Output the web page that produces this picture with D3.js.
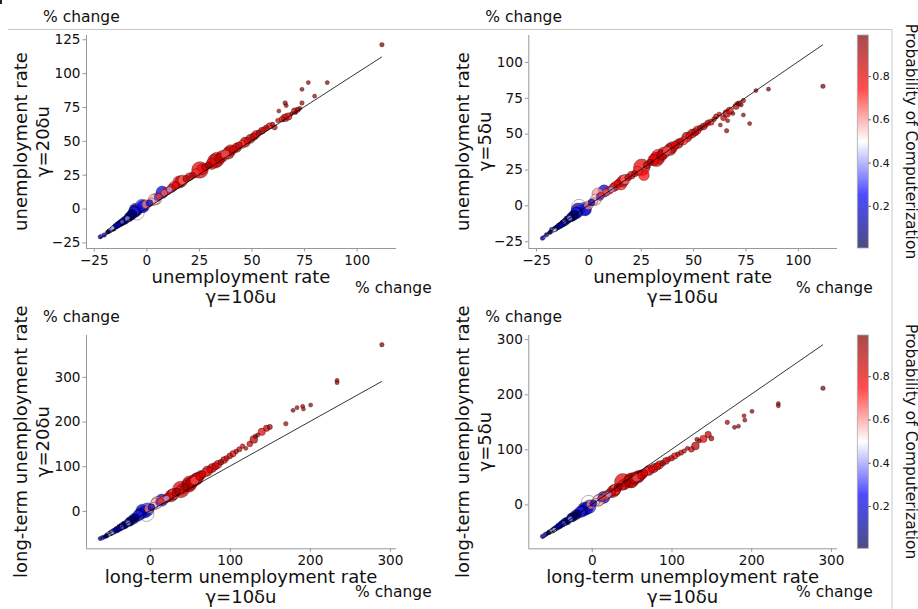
<!DOCTYPE html>
<html><head><meta charset="utf-8">
<script src="https://cdn.jsdelivr.net/npm/d3@7"></script>
<style>body{margin:0;background:#fff}svg{display:block}text{font-family:"DejaVu Sans",sans-serif;fill:#111}</style>
</head><body><svg id="c" width="918" height="609"></svg>
<script>
// ---- data: one entry per occupation ----
const ur10 = [-22,-21.5,-20,-18.5,-17.5,-17,-16,-15.5,-15,-14.5,-14,-13.5,-13,-12.5,-12,-11.5,-11,-10.5,-10,-9.5,-9,-8.5,-8,-7.5,-7,-6.5,-6,-5.5,
 -5,-4.5,-2,-1.5,0,1.5,2.5,3.5,4.5,5.5,6,7.5,8.5,10,11,12,13,14,15.5,16.5,17.5,19,20.5,22,23.5,25.5,26.5,28,29.5,31,32.5,33.5,35,36,37.5,39,40,41.5,43,44,45.5,47,48,49.5,51,52,53.5,55,56,57,58.5,60,61,62.5,63,64.5,66,66,66.5,67.5,70.5,72,74,74,77,80,86,112,73,69,71,
 -16.5,-14,-12,-10,-8.5,-7,-13,-18,-16];
const ur20 = [-21,-20.5,-19.5,-17.5,-16.5,-16,-15,-14.5,-13.5,-13,-12.5,-12,-11.5,-11,-10.5,-10,-9.5,-9,-8.5,-8,-7.5,-6.5,-6,-5.5,-4.5,-4,-3,-2,
 -1,-3,2,1.5,3,4,5,6.5,7,8.5,9,12,11.5,13,14,15,16.5,17,19.5,20,21,22,23.5,24.5,26,28.5,29,30.5,32,33,35,36,37,38.5,40,41,43,43.5,45,46.5,47.5,49,50,51.5,53,54.5,56,57.5,58.5,59.5,61,62,60,65,72,66,67,78,76,68,72,73,88,78,93,83,93,121,74,70,71,
 -15.5,-13,-11,-9,-7,-5.5,-12,-17,-14.5];
const ur5 = [-23,-22.5,-20.5,-19,-17,-17.5,-16.5,-16,-15.5,-15,-14.5,-14,-13.5,-13,-12.5,-11.5,-11.5,-10.5,-10,-9.5,-9,-8.5,-8,-7,-7,-6.5,-5.5,-5,
 -3,-1,-2.5,-3,0,2,2.5,4,8,6,7,10,9,10.5,11,12.5,13.5,15,15,17,18,19.5,21,22,24,26.5,21,28,30,31.5,32,34,35,36.5,38,39,40.5,42,43,44.5,45,47.5,48.5,50,51,52.5,54,55,56,57.5,58,60,62,63.5,56,61,64,52,59,66,69,71,63,73,57,80,81,83,70,64,71,
 -17,-14,-12,-10.5,-9,-7.5,-13.5,-18.5,-17];
const lt10 = [-62,-60,-58,-55,-53,-51,-49,-47,-46,-44,-43,-41,-40,-38,-37,-35,-34,-32,-31,-29,-27,-26,-24,-22,-20,-18,-15,-12,
 -9,-4,-3,-6,-1,2,5,8,9,12,13,15,17,19,21,22,24,25,27,29,30,32,33,35,37,39,41,43,45,47,49,50,52,54,56,58,60,62,64,66,69,72,75,78,82,85,89,93,96,100,104,108,112,116,120,125,130,132,135,140,146,150,179,170,184,191,234,290,234,201,192,
 -50,-42,-36,-30,-25,-21,-39,-54,-47];
const lt20 = [-62,-61,-59,-57,-54,-52,-50,-48,-46,-45,-43,-42,-40,-39,-37,-36,-34,-33,-31,-29,-27,-25,-23,-20,-18,-15,-11,-7,
 0,-7,3,-2,5,8,11,16,19,20,22,24,25,26,28,29,31,32,34,37,38,40,42,44,45,48,50,52,54,56,58,62,64,66,68,71,74,77,80,82,85,89,92,96,100,104,109,114,118,123,128,133,138,145,140,150,160,167,170,177,185,188,225,195,231,234,292,372,287,237,228,
 -51,-42,-36,-31,-25,-19,-40,-56,-48];
const lt5 = [-58,-57,-54,-52,-50,-49,-47,-45,-44,-42,-41,-39,-38,-36,-35,-34,-32,-31,-30,-28,-26,-24,-23,-21,-19,-17,-14,-12,
 -8,3,-4,-7,0,2,4,7,8,11,12,13,15,17,18,20,21,22,24,26,28,29,31,33,34,41,37,38,40,42,43,44,46,48,49,50,52,53,55,57,60,62,64,66,69,72,75,79,82,84,88,91,94,97,102,100,106,118,115,119,127,120,140,149,142,161,183,211,179,169,153,
 -48,-40,-34,-29,-24,-20,-37,-51,-46];
const prob = [0.05,0.30,0.10,0.03,0.20,0.45,0.06,0.02,0.12,0.08,0.25,0.04,0.15,0.005,0.09,0.35,0.05,0.18,0.03,0.11,0.40,0.07,0.02,0.22,0.13,0.05,0.28,0.09,
 0.14,0.50,0.32,0.20,0.62,0.15,0.58,0.55,0.60,0.30,0.70,0.18,0.65,0.75,0.42,0.82,0.68,0.78,0.72,0.85,0.64,0.88,0.76,0.90,0.70,0.80,0.74,0.86,0.92,0.78,0.84,0.72,0.88,0.81,0.66,0.91,0.85,0.77,0.94,0.83,0.70,0.89,0.75,0.92,0.86,0.79,0.95,0.87,0.82,0.90,0.76,0.93,0.88,0.84,0.91,0.86,0.89,0.95,0.93,0.80,0.87,0.92,0.96,0.90,0.94,0.91,0.97,0.99,0.93,0.95,0.90,
 0.01,0.03,0.02,0.04,0.06,0.01,0.26,0.02,0.48];
const emp = [250,250,300,250,350,250,400,450,350,500,300,600,450,550,700,300,800,500,900,600,400,1100,1300,700,1500,1000,1800,2000,
 2600,3200,2600,2200,1200,700,900,1800,2000,800,600,2200,700,900,500,1100,1300,800,2200,2000,1500,700,900,600,1200,4000,1700,800,600,1800,3000,3200,1500,2000,1100,2200,1800,900,1300,700,1000,1500,600,1200,800,1000,500,700,400,500,600,350,400,300,250,500,900,300,250,800,600,400,250,300,250,250,250,300,250,250,250,
 300,350,400,450,500,600,250,250,250];

const xTicksUR = [-25,0,25,50,75,100];
const yTicksP1 = [-25,0,25,50,75,100,125];
const yTicksP2 = [-25,0,25,50,75,100];
const ticksLT = [0,100,200,300];
const cbarTicks = [0.2,0.4,0.6,0.8];
const xLabelUR = ["unemployment rate","γ=10δu"];
const xLabelLT = ["long-term unemployment rate","γ=10δu"];
const yLabels = [["unemployment rate","γ=20δu"],["unemployment rate","γ=5δu"],["long-term unemployment rate","γ=20δu"],["long-term unemployment rate","γ=5δu"]];
const unitText = "% change";
const cbarTitle = "Probability of Computerization";

// ---- layout ----
const svg = d3.select("#c");
const FONT = "DejaVu Sans";
const panels = [
 {xs:ur10, ys:ur20, L:86, R:396, T:35, B:248, xt:xTicksUR, yt:yTicksP1, xl:xLabelUR, yl:yLabels[0], pcB:45, cbar:false},
 {xs:ur10, ys:ur5, L:528.3, R:837, T:35, B:248, xt:xTicksUR, yt:yTicksP2, xl:xLabelUR, yl:yLabels[1], pcB:45, cbar:true},
 {xs:lt10, ys:lt20, L:86, R:396, T:335, B:548.3, xt:ticksLT, yt:ticksLT, xl:xLabelLT, yl:yLabels[2], pcB:49, cbar:false},
 {xs:lt10, ys:lt5, L:528.3, R:837, T:335, B:548.3, xt:ticksLT, yt:ticksLT, xl:xLabelLT, yl:yLabels[3], pcB:49, cbar:true}
];

// frame lines
svg.append("line").attr("x1",8).attr("x2",892).attr("y1",29.5).attr("y2",29.5).attr("stroke","#c8c8c8").attr("stroke-width",1);
svg.append("line").attr("x1",892).attr("x2",892).attr("y1",29.5).attr("y2",609).attr("stroke","#c8c8c8").attr("stroke-width",1);
svg.append("rect").attr("x",0).attr("y",0).attr("width",2).attr("height",4).attr("fill","#222");

const pMin = d3.min(prob), pMax = d3.max(prob);
const seismic = d3.scaleLinear().domain([0,0.25,0.5,0.75,1])
  .range(["rgb(0,0,77)","rgb(0,0,255)","rgb(255,255,255)","rgb(255,0,0)","rgb(128,0,0)"]);
const norm = d3.scaleLinear().domain([pMin,pMax]).range([0,1]).clamp(true);
const colorOf = p => seismic(norm(p));
const rScale = d3.scaleSqrt().domain([0,4000]).range([0,8.3]);

function pad(ext){const m=(ext[1]-ext[0])*0.05;return [ext[0]-m, ext[1]+m];}

const order = d3.range(ur10.length).sort((a,b)=>emp[b]-emp[a]);

panels.forEach(p=>{
  const xExt = d3.extent(p.xs);
  const yExt = d3.extent(p.ys.concat(xExt));
  const x = d3.scaleLinear().domain(pad(xExt)).range([p.L,p.R]);
  const y = d3.scaleLinear().domain(pad(yExt)).range([p.B,p.T]);
  const g = svg.append("g");
  // points
  g.selectAll("circle.pt").data(order).enter().append("circle")
    .attr("cx",i=>x(p.xs[i])).attr("cy",i=>y(p.ys[i])).attr("r",i=>rScale(emp[i]))
    .attr("fill",i=>colorOf(prob[i])).attr("fill-opacity",0.72)
    .attr("stroke","#000").attr("stroke-opacity",0.5).attr("stroke-width",0.6);
  // identity line
  g.append("line").attr("x1",x(xExt[0])).attr("y1",y(xExt[0])).attr("x2",x(xExt[1])).attr("y2",y(xExt[1]))
    .attr("stroke","#000").attr("stroke-width",0.8);
  // axes
  const xa = g.append("g").attr("transform",`translate(0,${p.B})`)
    .call(d3.axisBottom(x).tickValues(p.xt).tickSize(3.5).tickPadding(3.5).tickSizeOuter(0));
  const ya = g.append("g").attr("transform",`translate(${p.L},0)`)
    .call(d3.axisLeft(y).tickValues(p.yt).tickSize(3.5).tickPadding(2).tickSizeOuter(0));
  [xa,ya].forEach(a=>{
    a.select(".domain").attr("stroke","#999").attr("stroke-width",1);
    a.selectAll(".tick line").attr("stroke","#999");
    a.selectAll(".tick text").attr("font-family",FONT).attr("font-size","13.6px").attr("fill","#111");
  });
  ya.select(".domain").attr("d",`M0.5,${p.T}V${p.B}`);
  xa.select(".domain").attr("d",`M${p.L},0.5H${p.R}`);
  // x label
  const cx = (p.L+p.R)/2;
  p.xl.forEach((t,k)=>g.append("text").attr("x",cx).attr("y",p.B+35+k*19.5)
    .attr("text-anchor","middle").attr("font-size","18px").text(t));
  // y label
  const cy = (p.T+p.B)/2;
  p.yl.forEach((t,k)=>g.append("text").attr("transform",`translate(${p.L-59+k*22},${cy}) rotate(-90)`)
    .attr("text-anchor","middle").attr("font-size","18px").text(t));
  // % change labels
  g.append("text").attr("x",p.L-43).attr("y",p.T-13).attr("font-size","15.5px").text(unitText);
  g.append("text").attr("x",p.R-41).attr("y",p.B+p.pcB).attr("font-size","15.5px").text(unitText);
  // colorbar
  if(p.cbar){
    const cbL=857.3, cbR=868.3;
    const cs = d3.scaleLinear().domain([pMin,pMax]).range([p.B,p.T]);
    const gid = "grad"+p.T;
    const grad = svg.append("defs").append("linearGradient").attr("id",gid)
      .attr("x1",0).attr("y1",1).attr("x2",0).attr("y2",0);
    d3.range(0,1.0001,0.05).forEach(o=>grad.append("stop").attr("offset",o).attr("stop-color",seismic(o)));
    g.append("rect").attr("x",cbL).attr("y",p.T).attr("width",cbR-cbL).attr("height",p.B-p.T)
      .attr("fill",`url(#${gid})`).attr("fill-opacity",0.7);
    g.append("rect").attr("x",cbL).attr("y",p.T).attr("width",cbR-cbL).attr("height",p.B-p.T)
      .attr("fill","none").attr("stroke","#aaa").attr("stroke-width",0.8);
    const ca = g.append("g").attr("transform",`translate(${cbR},0)`)
      .call(d3.axisRight(cs).tickValues(cbarTicks).tickSize(2.5).tickPadding(1.5).tickFormat(d3.format(".1f")));
    ca.select(".domain").remove();
    ca.selectAll(".tick line").attr("stroke","#555");
    ca.selectAll(".tick text").attr("font-family",FONT).attr("font-size","11px").attr("fill","#111");
    g.append("text").attr("transform",`translate(905.5,${cy}) rotate(90)`)
      .attr("text-anchor","middle").attr("font-size","15.5px").text(cbarTitle);
  }
});
</script></body></html>
